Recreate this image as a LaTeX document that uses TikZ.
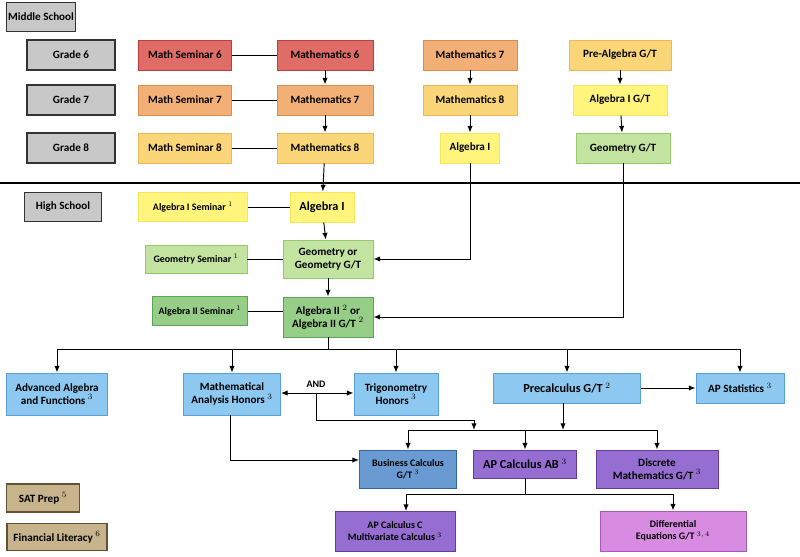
\documentclass[tikz,border=0pt]{standalone}
\usepackage{fontspec}
\setmainfont{Carlito}
\usetikzlibrary{arrows.meta}
\definecolor{grayf}{RGB}{200,200,200}
\definecolor{redf}{RGB}{224,108,104}\definecolor{redd}{RGB}{190,60,60}
\definecolor{orgf}{RGB}{242,176,118}\definecolor{orgd}{RGB}{215,140,80}
\definecolor{ltof}{RGB}{250,214,120}\definecolor{ltod}{RGB}{235,185,80}
\definecolor{yelf}{RGB}{255,245,125}\definecolor{yeld}{RGB}{245,230,90}
\definecolor{lgrf}{RGB}{195,227,160}\definecolor{lgrd}{RGB}{150,200,110}
\definecolor{grnf}{RGB}{150,205,135}\definecolor{grnd}{RGB}{90,165,85}
\definecolor{bluf}{RGB}{140,200,240}\definecolor{blud}{RGB}{90,160,215}
\definecolor{dblf}{RGB}{105,155,210}\definecolor{dbld}{RGB}{50,100,165}
\definecolor{purf}{RGB}{150,110,210}\definecolor{purd}{RGB}{100,60,160}
\definecolor{pnkf}{RGB}{215,140,225}\definecolor{pnkd}{RGB}{165,90,180}
\definecolor{tanf}{RGB}{200,180,140}\definecolor{tand}{RGB}{100,80,50}
\tikzset{
  box/.style 2 args={rectangle, thick, align=center, inner sep=1pt,
    minimum width=#1*0.03cm, minimum height=#2*0.03cm,
    font=\fontsize{9.5}{11}\selectfont\bfseries},
  label box/.style={fill=grayf, draw=black!80, very thick},
  red/.style={fill=redf, draw=redd}, org/.style={fill=orgf, draw=orgd},
  lto/.style={fill=ltof, draw=ltod}, yel/.style={fill=yelf, draw=yeld},
  lgr/.style={fill=lgrf, draw=lgrd}, grn/.style={fill=grnf, draw=grnd},
  blu/.style={fill=bluf, draw=blud}, dbl/.style={fill=dblf, draw=dbld},
  pur/.style={fill=purf, draw=purd}, pnk/.style={fill=pnkf, draw=pnkd},
  tan/.style={fill=tanf, draw=tand, very thick},
  small text/.style={font=\fontsize{8.5}{10}\selectfont\bfseries},
  big text/.style={font=\fontsize{10.5}{12}\selectfont\bfseries},
  link/.style={thick},
  arr/.style={thick, -{Latex[length=2mm,width=1.6mm]}},
  darr/.style={thick, {Latex[length=2mm,width=1.6mm]}-{Latex[length=2mm,width=1.6mm]}}
}
\begin{document}
\begin{tikzpicture}[x=0.03cm, y=-0.03cm]
\useasboundingbox (0,0) rectangle (800,557);
% labels
\node[box={69}{29}, label box] (ms) at (41,17) {Middle School};
\node[box={88}{30}, label box] (g6) at (71,55) {Grade 6};
\node[box={88}{30}, label box] (g7) at (71,100) {Grade 7};
\node[box={88}{30}, label box] (g8) at (71,148) {Grade 8};
\node[box={77}{29}, label box] (hs) at (63,207) {High School};
\node[box={73}{28}, tan] (sat) at (43,498) {SAT Prep $^{5}$};
\node[box={100}{27}, tan] (fin) at (57,537) {Financial Literacy $^{6}$};
% middle school
\node[box={93}{30}, red] (sem6) at (185,55) {Math Seminar 6};
\node[box={96}{30}, red] (m6) at (325,55) {Mathematics 6};
\node[box={93}{30}, org] (sem7) at (185,100) {Math Seminar 7};
\node[box={96}{30}, org] (m7) at (325,100) {Mathematics 7};
\node[box={93}{30}, lto] (sem8) at (185,148) {Math Seminar 8};
\node[box={96}{30}, lto] (m8) at (325,148) {Mathematics 8};
\node[box={94}{30}, org] (m7b) at (470,55) {Mathematics 7};
\node[box={94}{30}, lto] (m8b) at (470,100) {Mathematics 8};
\node[box={59}{30}, yel] (alg1m) at (470,148) {Algebra I};
\node[box={102}{30}, lto] (pre) at (620,55) {Pre-Algebra G/T};
\node[box={94}{30}, yel] (alg1gt) at (620,100) {Algebra I G/T};
\node[box={94}{30}, lgr] (geogt) at (623,148) {Geometry G/T};
\draw[line width=1.6pt] (0,183) -- (800,183);
% high school
\node[box={109}{29}, yel, small text] (alg1sem) at (193,207) {Algebra I Seminar $^{1}$};
\node[box={64}{30}, yel, big text] (alg1) at (322,207) {Algebra I};
\node[box={102}{28}, lgr, small text] (geosem) at (196,259) {Geometry Seminar $^{1}$};
\node[box={90}{38}, lgr] (geo) at (328,259) {Geometry or\\Geometry G/T};
\node[box={95}{29}, grn, small text] (alg2sem) at (200,311) {Algebra II Seminar $^{1}$};
\node[box={90}{40}, grn] (alg2) at (328,317) {Algebra II $^{2}$ or\\Algebra II G/T $^{2}$};
\node[box={101}{42}, blu] (adv) at (57,394) {Advanced Algebra\\and Functions $^{3}$};
\node[box={97}{42}, blu] (mah) at (232,394) {Mathematical\\Analysis Honors $^{3}$};
\node[box={84}{42}, blu] (trig) at (396,394) {Trigonometry\\Honors $^{3}$};
\node[box={147}{30}, blu, big text] (prec) at (567,388) {Precalculus G/T $^{2}$};
\node[box={88}{30}, blu] (stat) at (740,388) {AP Statistics $^{3}$};
\node[font=\fontsize{8.5}{9}\selectfont\bfseries] (and) at (316,384) {AND};
\node[box={97}{38}, dbl, small text] (bus) at (408,469) {Business Calculus\\G/T $^{3}$};
\node[box={103}{28}, pur, big text] (ab) at (525,464) {AP Calculus AB $^{3}$};
\node[box={122}{38}, pur] (disc) at (657,469) {Discrete\\Mathematics G/T $^{3}$};
\node[box={120}{40}, pur, small text] (bc) at (395,531) {AP Calculus C\\Multivariate Calculus $^{3}$};
\node[box={146}{40}, pnk, small text] (diff) at (673,531) {Differential\\Equations G/T $^{3,\,4}$};
% connectors
\draw[link] (sem6) -- (m6);
\draw[link] (sem7) -- (m7);
\draw[link] (sem8) -- (m8);
\draw[arr] (m6) -- (m7);
\draw[arr] (m7) -- (m8);
\draw[arr] (m8) -- (alg1);
\draw[arr] (m7b) -- (m8b);
\draw[arr] (m8b) -- (alg1m);
\draw[arr] (pre) -- (alg1gt);
\draw[arr] (alg1gt) -- (geogt);
\draw[link] (alg1sem) -- (alg1);
\draw[link] (geosem) -- (geo);
\draw[link] (alg2sem) -- (alg2sem -| alg2.west);
\draw[arr] (alg1) -- (geo);
\draw[arr] (geo) -- (alg2);
\draw[arr] (alg1m) |- (geo);
\draw[arr] (geogt) |- (alg2);
\coordinate (split) at (328,349);
\draw[link] (alg2) -- (split);
\draw[link] (adv.north |- split) -- (stat.north |- split);
\foreach \n in {adv,mah,trig,prec,stat} \draw[arr] (\n.north |- split) -- (\n.north);
\draw[arr] (prec) -- (stat);
\draw[darr] (mah.east |- 0,393) -- (trig.west |- 0,393);
\coordinate (calc) at (0,430);
\draw[arr] (316,393) -- (316,420) -| (474,430);
\draw[link] (bus.north |- calc) -- (disc.north |- calc);
\draw[arr] (prec.south -| 563,0) -- (563,430);
\foreach \n in {bus,ab,disc} \draw[arr] (\n.north |- calc) -- (\n.north);
\draw[arr] (230,415) |- (bus.west |- 0,460);
\coordinate (after) at (525,494);
\draw[link] (ab) -- (after);
\draw[link] (406,494) -- (diff.north |- after);
\draw[arr] (406,494) -- (406,511);
\draw[arr] (diff.north |- after) -- (diff.north);
\end{tikzpicture}
\end{document}
